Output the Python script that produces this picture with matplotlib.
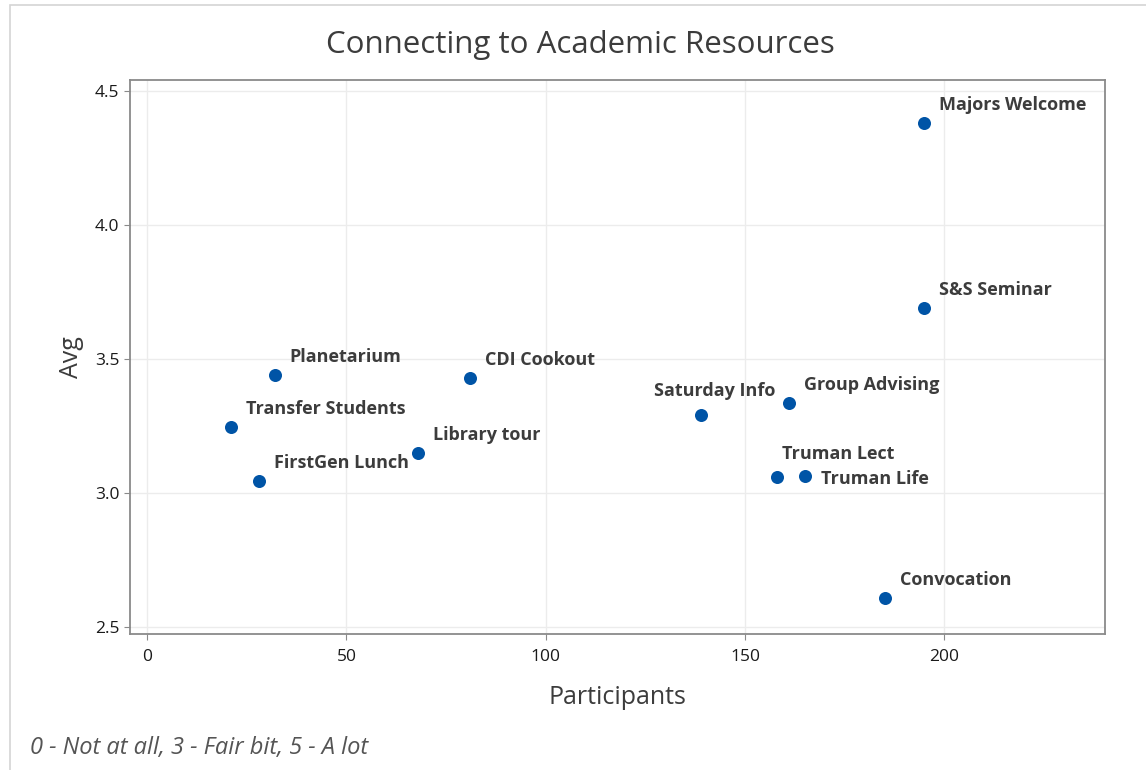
import numpy as np
import matplotlib.pyplot as plt
from matplotlib.patches import Rectangle

plt.rcParams['font.family'] = ['Open Sans', 'DejaVu Sans']

# data
events = ["Majors Welcome", "S&S Seminar", "Planetarium", "CDI Cookout",
          "Transfer Students", "Library tour", "FirstGen Lunch", "Saturday Info",
          "Group Advising", "Truman Lect", "Truman Life", "Convocation"]
participants = [195, 195, 32, 81, 21, 68, 28, 139, 161, 158, 165, 185]
avg = [4.38, 3.69, 3.44, 3.43, 3.245, 3.148, 3.043, 3.29, 3.335, 3.058, 3.065, 2.61]

# label offsets in pixels (dx, dy, ha)
offs = {
    "Saturday Info": (13, 24, 'center'),
    "Truman Lect": (61, 23, 'center'),
    "Truman Life": (16, -3, 'left'),
}

fig = plt.figure(figsize=(11.46, 7.70), dpi=100)
ax = fig.add_axes([130 / 1146, 1 - 634 / 770, (1105 - 130) / 1146, (634 - 80) / 770])

ax.scatter(participants, avg, s=88, color='#0054A6', zorder=3, linewidths=0)

for name, x, y in zip(events, participants, avg):
    dx, dy, ha = offs.get(name, (15, 18, 'left'))
    ax.annotate(name, (x, y), xytext=(dx * 0.72, dy * 0.72), textcoords='offset points',
                ha=ha, va='center', fontsize=13, fontweight='bold', color='#3c3c3c')

ax.set_xlim(-4.3, 240.3)
ax.set_ylim(2.474, 4.541)
ax.set_xticks([0, 50, 100, 150, 200])
ax.set_yticks([2.5, 3.0, 3.5, 4.0, 4.5])
ax.grid(True, color='#ececec', linewidth=1)
ax.set_axisbelow(True)
for sp in ax.spines.values():
    sp.set_color('#8a8a8a')
    sp.set_linewidth(1.3)
ax.tick_params(colors='#8a8a8a', labelcolor='#1a1a1a', labelsize=12.5, length=4)
ax.tick_params(axis='x', pad=7)

ax.set_xlabel("Participants", fontsize=18, color='#3c3c3c', labelpad=14)
ax.set_ylabel("Avg", fontsize=18, color='#3c3c3c', labelpad=8)
fig.text(580 / 1146, 1 - 45 / 770, "Connecting to Academic Resources", ha='center', va='center',
         fontsize=22.5, color='#3c3c3c')
fig.text(30 / 1146, 1 - 748 / 770, "0 - Not at all, 3 - Fair bit, 5 - A lot", ha='left', va='center',
         fontsize=17, style='italic', color='#555555')

fig.patches.append(Rectangle((10 / 1146, -0.01), 1.1, 1 - 5 / 770 + 0.01, transform=fig.transFigure,
                             fill=False, edgecolor='#d4d4d4', linewidth=1.2))

fig.savefig("out.png", dpi=100)
